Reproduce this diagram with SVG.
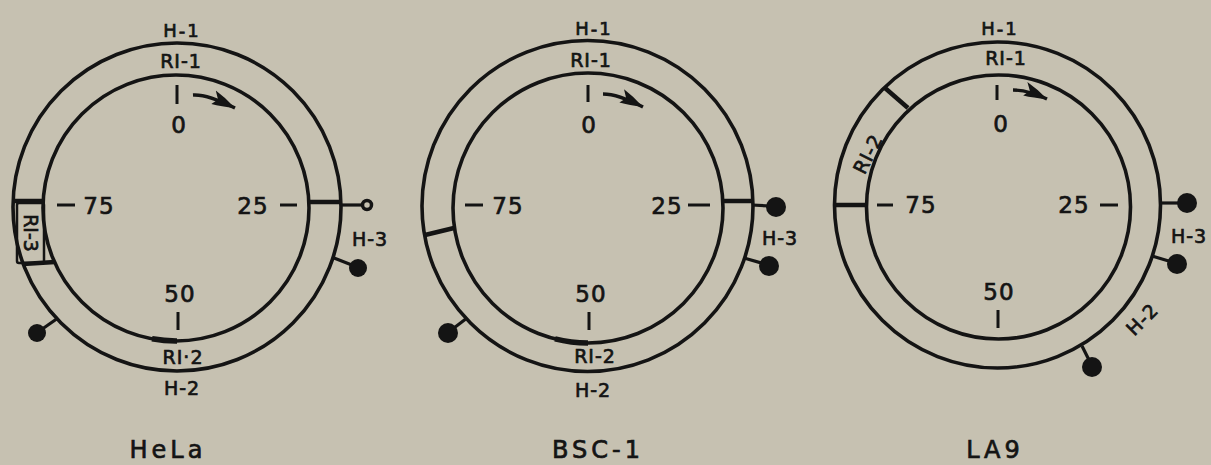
<svg xmlns="http://www.w3.org/2000/svg" width="1211" height="465" viewBox="0 0 1211 465">
<defs>
<style>
.ring{fill:none;stroke:#141414;stroke-width:3.6}
.div{stroke:#141414;stroke-width:4.5}
.tk{stroke:#141414;stroke-width:3}
.stalk{stroke:#141414;stroke-width:3.2}
.dot{fill:#141414}
.open{fill:#c6c1b1;stroke:#141414;stroke-width:3.5}
.thick{fill:none;stroke:#141414;stroke-width:5.5}
.arr{fill:none;stroke:#141414;stroke-width:3.4;marker-end:url(#ah)}
.t{font-family:"DejaVu Sans","Liberation Sans",sans-serif;fill:#141414;stroke:#141414;stroke-width:0.7;text-anchor:middle}
.s{font-size:18px;letter-spacing:2px}
.r{font-size:19px;letter-spacing:1px}
.n{font-size:23px;letter-spacing:1px}
.c{font-size:24px;letter-spacing:4px}
</style>
<marker id="ah" markerUnits="userSpaceOnUse" markerWidth="26" markerHeight="16" viewBox="0 0 26 16" refX="25" refY="8" orient="auto">
<path d="M0,1 Q12,3 25,8 Q12,13 2,15 L6,8 Z" fill="#141414"/>
</marker>
</defs>
<rect width="1211" height="465" fill="#c6c1b1"/>

<g id="hela">
<circle class="ring" cx="177" cy="207" r="164"/>
<circle class="ring" cx="176" cy="208" r="133"/>
<line class="div" x1="308" y1="202" x2="342" y2="202"/>
<line class="div" x1="13" y1="201" x2="43" y2="201"/>
<line class="div" x1="23" y1="264" x2="55" y2="262"/>
<rect x="17" y="203" width="27" height="60" fill="none" stroke="#141414" stroke-width="2.5" rx="2"/>
<path class="thick" d="M152,338.8 A133,133 0 0 0 177,341"/>
<line class="stalk" x1="341" y1="205" x2="362" y2="205"/>
<circle class="open" cx="367" cy="205" r="4.5"/>
<line class="stalk" x1="334" y1="258" x2="357" y2="267"/>
<circle class="dot" cx="358" cy="268" r="9"/>
<line class="stalk" x1="58" y1="318" x2="38" y2="332"/>
<circle class="dot" cx="37" cy="333" r="9"/>
<line class="tk" x1="177" y1="85" x2="177" y2="104"/>
<line class="tk" x1="57" y1="205" x2="75" y2="205"/>
<line class="tk" x1="280" y1="205" x2="297" y2="205"/>
<line class="tk" x1="178" y1="312" x2="178" y2="330"/>
<text class="t s" x="182" y="37">H-1</text>
<text class="t r" x="181" y="68">RI-1</text>
<text class="t n" x="179" y="133">0</text>
<text class="t n" x="253" y="214">25</text>
<text class="t n" x="99" y="214">75</text>
<text class="t n" x="180" y="302">50</text>
<text class="t r" x="183" y="364">RI·2</text>
<text class="t r" x="182" y="395">H-2</text>
<text class="t r" x="370" y="246">H-3</text>
<text class="t" font-size="19" transform="translate(24,233) rotate(90)">RI-3</text>
<text class="t c" x="168" y="458" letter-spacing="3">HeLa</text>
</g>

<g id="bsc1">
<circle class="ring" cx="587.5" cy="206" r="165.5"/>
<circle class="ring" cx="588" cy="208" r="135"/>
<line class="div" x1="722" y1="201" x2="753" y2="201"/>
<line class="div" x1="425" y1="235" x2="454" y2="228"/>
<path class="thick" d="M555,338.9 A135,135 0 0 0 588,343"/>
<line class="stalk" x1="752" y1="205" x2="770" y2="206"/>
<circle class="dot" cx="776" cy="207" r="10"/>
<line class="stalk" x1="744" y1="258" x2="765" y2="264"/>
<circle class="dot" cx="769" cy="266" r="10"/>
<line class="stalk" x1="467" y1="318" x2="450" y2="331"/>
<circle class="dot" cx="448" cy="333" r="10"/>
<line class="tk" x1="588" y1="85" x2="588" y2="102"/>
<line class="tk" x1="465" y1="205" x2="483" y2="205"/>
<line class="tk" x1="688" y1="205" x2="710" y2="205"/>
<line class="tk" x1="589" y1="312" x2="589" y2="330"/>
<text class="t s" x="594" y="35">H-1</text>
<text class="t r" x="591" y="67">RI-1</text>
<text class="t n" x="589" y="133">0</text>
<text class="t n" x="667" y="214">25</text>
<text class="t n" x="508" y="214">75</text>
<text class="t n" x="591" y="302">50</text>
<text class="t r" x="595" y="363">RI-2</text>
<text class="t r" x="593" y="397">H-2</text>
<text class="t r" x="780" y="245">H-3</text>
<text class="t c" x="598" y="458" letter-spacing="5">BSC-1</text>
</g>

<g id="la9">
<circle class="ring" cx="997.5" cy="205" r="163"/>
<circle class="ring" cx="998.5" cy="207" r="132"/>
<line class="div" x1="885" y1="88" x2="908" y2="108"/>
<line class="div" x1="835" y1="205" x2="866" y2="205"/>
<line class="stalk" x1="1160" y1="203" x2="1180" y2="203"/>
<circle class="dot" cx="1187" cy="203" r="10"/>
<line class="stalk" x1="1152" y1="256" x2="1172" y2="262"/>
<circle class="dot" cx="1177" cy="264" r="10"/>
<line class="stalk" x1="1082" y1="346" x2="1090" y2="362"/>
<circle class="dot" cx="1092" cy="367" r="10"/>
<line class="tk" x1="997" y1="85" x2="997" y2="100"/>
<line class="tk" x1="877" y1="205" x2="893" y2="205"/>
<line class="tk" x1="1100" y1="205" x2="1118" y2="205"/>
<line class="tk" x1="998" y1="310" x2="998" y2="328"/>
<text class="t s" x="1000" y="35">H-1</text>
<text class="t r" x="1006" y="65">RI-1</text>
<text class="t n" x="1001" y="132">0</text>
<text class="t n" x="1074" y="213">25</text>
<text class="t n" x="921" y="213">75</text>
<text class="t n" x="999" y="300">50</text>
<text class="t r" x="1189" y="243">H-3</text>
<text class="t r" transform="translate(874,157) rotate(-63)">RI-2</text>
<text class="t r" transform="translate(1147,324) rotate(-45)">H-2</text>
<text class="t c" x="995" y="458" letter-spacing="8">LA9</text>
</g>

<g id="connectors">
<path class="arr" d="M193,95 Q207,94 235,108"/>
<path class="arr" d="M603,94 Q618,94 643,107"/>
<path class="arr" d="M1013,90 Q1028,90 1047,99"/>
</g>
</svg>
